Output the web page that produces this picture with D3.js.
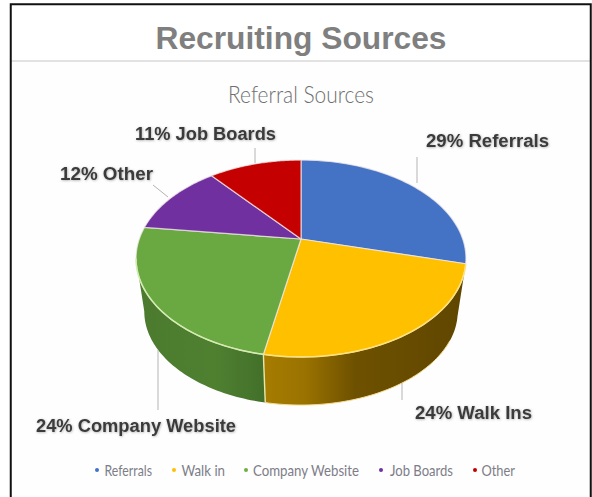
<!DOCTYPE html>
<html>
<head>
<meta charset="utf-8">
<style>
  html, body { margin: 0; padding: 0; background: #fff; }
  svg { display: block; }
</style>
<script src="https://cdn.jsdelivr.net/npm/d3@7"></script>
</head>
<body>
<svg id="chart" width="592" height="497"></svg>
<script>
// Share of hires per source, clockwise from twelve o'clock
const sources = ["Referrals", "Walk Ins", "Company Website", "Other", "Job Boards"];
const shares = [29, 24, 24, 12, 11];

// Legend entries run in their own order with their own wording
const legendNames = ["Referrals", "Walk in", "Company Website", "Job Boards", "Other"];
const legendColors = ["#4472c4", "#ffc000", "#70ad47", "#7030a0", "#c00000"];

const sliceColors = ["#4472c4", "#ffc000", "#6aa842", "#7030a0", "#c40000"];

const svg = d3.select("#chart");
const defs = svg.append("defs");

// Tilted disc: a circle in the plane seen through a perspective projection
const tilt = 0.198;
function projector(cx, cy, scale) {
  return a => {
    const u = Math.sin(a), v = Math.cos(a), d = 1 + tilt * v;
    return [cx + scale * 161.7 * u / d, cy - scale * 94.6 * v / d];
  };
}
const topRim = projector(301, 239, 1);
const lowRim = projector(301, 293, 0.95);
const apex = [301, 239];

const arcs = d3.pie().sort(null).value(d => d)(shares);
const line = d3.line();
const sweep = (a0, a1) => d3.range(0, 61).map(i => d3.interpolateNumber(a0, a1)(i / 60));

// Page frame and header
svg.append("rect").attr("x", 0).attr("y", 0).attr("width", 592).attr("height", 497).attr("fill", "#fff");
svg.append("rect").attr("x", 11).attr("y", 61).attr("width", 579).attr("height", 436).attr("fill", "#fefefe");
svg.append("rect").attr("x", 11).attr("y", 60).attr("width", 579).attr("height", 2).attr("fill", "#e2e2e2");
svg.append("path")
  .attr("d", "M10.75,497V4.25H590.75V497")
  .attr("fill", "none").attr("stroke", "#111").attr("stroke-width", 2);

svg.append("text")
  .attr("x", 301).attr("y", 49)
  .attr("text-anchor", "middle")
  .attr("font-family", "'Liberation Sans', Arial, sans-serif")
  .attr("font-weight", 700).attr("font-size", 32)
  .attr("textLength", 291).attr("lengthAdjust", "spacingAndGlyphs")
  .attr("fill", "#7f7f7f")
  .text("Recruiting Sources");

svg.append("text")
  .attr("x", 301).attr("y", 103)
  .attr("text-anchor", "middle")
  .attr("font-family", "Lato, 'Open Sans', sans-serif")
  .attr("font-weight", 300).attr("font-size", 24)
  .attr("textLength", 146).attr("lengthAdjust", "spacingAndGlyphs")
  .attr("fill", "#6f6f6f")
  .text("Referral Sources");

// Shaded side wall of the disc
function sideGradient(id, stops) {
  const g = defs.append("linearGradient").attr("id", id)
    .attr("gradientUnits", "userSpaceOnUse")
    .attr("x1", 135).attr("x2", 467).attr("y1", 0).attr("y2", 0);
  stops.forEach(([x, c]) => g.append("stop").attr("offset", (x - 135) / 332).attr("stop-color", c));
}
sideGradient("wall-green", [[135, "#4b7a2e"], [215, "#4f8030"], [264, "#42702a"]]);
sideGradient("wall-gold", [[264, "#a67c00"], [305, "#9a7200"], [355, "#6e5100"], [467, "#5f4600"]]);

// The wall is only visible between the two widest points of the rim
const wallStart = Math.acos(-tilt);
const wallEnd = 2 * Math.PI - wallStart;
const walls = [[arcs[1], "url(#wall-gold)", "#f7dc92"], [arcs[2], "url(#wall-green)", "none"]];
svg.append("g").selectAll("path").data(walls).join("path")
  .attr("d", ([arc]) => {
    const s = sweep(Math.max(arc.startAngle, wallStart), Math.min(arc.endAngle, wallEnd));
    return line([...s.map(topRim), ...s.slice().reverse().map(lowRim)]) + "Z";
  })
  .attr("fill", d => d[1]);

// Pale fringe under the gold wall and the seam between the two walls
svg.append("path")
  .attr("d", line(sweep(arcs[1].startAngle + 0.25, arcs[1].endAngle).map(lowRim)))
  .attr("fill", "none").attr("stroke", "#f7dc92").attr("stroke-width", 1);
svg.append("path")
  .attr("d", line([topRim(arcs[1].endAngle), lowRim(arcs[1].endAngle)]))
  .attr("stroke", "#e9e7a8").attr("stroke-width", 1.4);

// Top face
svg.append("g").selectAll("path").data(arcs).join("path")
  .attr("d", d => line([apex, ...sweep(d.startAngle, d.endAngle).map(topRim)]) + "Z")
  .attr("fill", (d, i) => sliceColors[i])
  .attr("stroke", "#f3e9e9").attr("stroke-opacity", 0.75).attr("stroke-width", 1.2)
  .attr("stroke-linejoin", "round");

// Light edge along the front of the top face
svg.append("path")
  .attr("d", line(sweep(arcs[1].startAngle, arcs[1].endAngle).map(topRim)))
  .attr("fill", "none").attr("stroke", "#ffe27a").attr("stroke-width", 1.5);
svg.append("path")
  .attr("d", line(sweep(arcs[2].startAngle, wallEnd).map(topRim)))
  .attr("fill", "none").attr("stroke", "#d3ecb0").attr("stroke-width", 1.5);

// Leader lines from each label to its slice
const leaders = [
  [[417, 157], [417, 183]],
  [[402, 383], [402, 400]],
  [[158, 350], [158, 410]],
  [[153, 185], [168, 197]],
  [[255, 148], [255, 163]]
];
svg.append("g").selectAll("path").data(leaders).join("path")
  .attr("d", d => line(d))
  .attr("stroke", "#b4b4b4").attr("stroke-width", 1).attr("fill", "none");

// Data labels with a soft shadow
const shadow = defs.append("filter").attr("id", "label-shadow")
  .attr("x", "-10%").attr("y", "-30%").attr("width", "120%").attr("height", "160%");
shadow.append("feDropShadow")
  .attr("dx", 0.6).attr("dy", 0.6).attr("stdDeviation", 0.9)
  .attr("flood-color", "#777").attr("flood-opacity", 0.6);

const labelBoxes = [
  { x: 426, y: 147, w: 123 },
  { x: 415, y: 419, w: 117 },
  { x: 36, y: 432, w: 200 },
  { x: 60, y: 180, w: 93 },
  { x: 135, y: 140, w: 141 }
];
svg.append("g").selectAll("text").data(sources).join("text")
  .attr("x", (d, i) => labelBoxes[i].x)
  .attr("y", (d, i) => labelBoxes[i].y)
  .attr("textLength", (d, i) => labelBoxes[i].w)
  .attr("lengthAdjust", "spacingAndGlyphs")
  .attr("font-family", "'Liberation Sans', Arial, sans-serif")
  .attr("font-weight", 700).attr("font-size", 18)
  .attr("fill", "#3a3a3a")
  .attr("filter", "url(#label-shadow)")
  .text((d, i) => `${shares[i]}% ${d}`);

// Legend row
const legendSlots = [
  { dot: 97, x: 104.5, w: 47.5 },
  { dot: 174, x: 181.5, w: 43.5 },
  { dot: 246, x: 253, w: 106 },
  { dot: 381, x: 390, w: 63 },
  { dot: 475, x: 481.5, w: 33.5 }
];
const legend = svg.append("g").selectAll("g").data(legendNames).join("g");
legend.append("circle")
  .attr("cx", (d, i) => legendSlots[i].dot)
  .attr("cy", 470).attr("r", 2)
  .attr("fill", (d, i) => legendColors[i]);
legend.append("text")
  .attr("x", (d, i) => legendSlots[i].x)
  .attr("y", 475.5)
  .attr("textLength", (d, i) => legendSlots[i].w)
  .attr("lengthAdjust", "spacingAndGlyphs")
  .attr("font-family", "Lato, 'Open Sans', sans-serif")
  .attr("font-weight", 400).attr("font-size", 16)
  .attr("fill", "#7d7d88")
  .text(d => d);
</script>
</body>
</html>
